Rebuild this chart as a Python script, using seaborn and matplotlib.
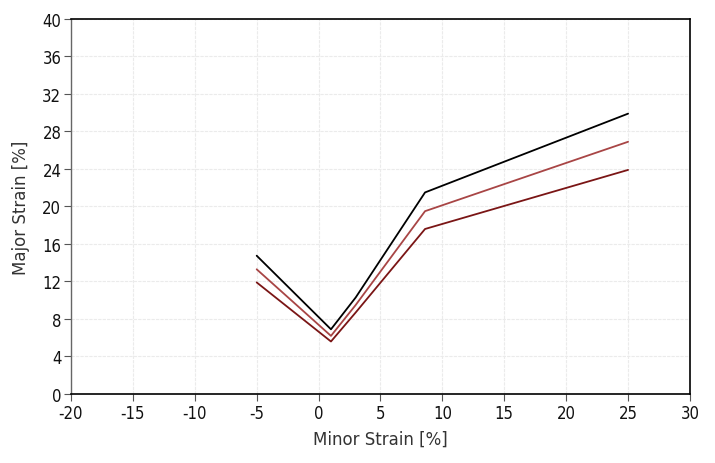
import matplotlib
matplotlib.use("Agg")
import matplotlib.pyplot as plt
import seaborn as sns
import pandas as pd

minor = [-5.0, 1.0, 3.0, 8.6, 25.0]
major_black = [14.75, 6.9, 10.3, 21.5, 29.9]
major_red = [13.3, 6.2, 9.5, 19.5, 26.9]
major_dark = [11.9, 5.6, 8.7, 17.6, 23.9]
series_names = ["upper", "middle", "lower"]
series_colors = ["#000000", "#a84545", "#7a1515"]
xticks = [-20, -15, -10, -5, 0, 5, 10, 15, 20, 25, 30]
yticks = [0, 4, 8, 12, 16, 20, 24, 28, 32, 36, 40]

rows = []
for name, vals in zip(series_names, [major_black, major_red, major_dark]):
    for x, y in zip(minor, vals):
        rows.append({"Minor": x, "Major": y, "series": name})
df = pd.DataFrame(rows)

sns.set_style("white")
plt.rcParams["font.family"] = ["DejaVu Sans"]

fig = plt.figure(figsize=(7.15, 4.64), dpi=100)
ax = fig.add_axes([0.0993, 0.1487, 0.8657, 0.8083])
sns.lineplot(data=df, x="Minor", y="Major", hue="series", palette=series_colors,
             hue_order=series_names, sort=False, linewidth=1.3, legend=False, ax=ax)

ax.set_xlim(-20, 30)
ax.set_ylim(0, 40)
ax.set_xticks(xticks)
ax.set_yticks(yticks)
ax.set_xticklabels([str(t) for t in xticks], fontsize=12, stretch="condensed")
ax.set_yticklabels([str(t) for t in yticks], fontsize=12, stretch="condensed")
ax.grid(True, color="#ebebeb", linewidth=0.8, linestyle=(0, (3, 1)))
ax.set_axisbelow(True)
ax.tick_params(axis="both", direction="out", length=5, width=0.8, color="#555555",
               bottom=True, left=True, pad=2, labelcolor="#111111")
for side in ["top", "right", "bottom"]:
    ax.spines[side].set_color("#000000")
    ax.spines[side].set_linewidth(1.2)
ax.spines["left"].set_color("#666666")
ax.spines["left"].set_linewidth(1.0)
ax.set_xlabel("Minor Strain [%]", fontsize=12, color="#333333", labelpad=6)
ax.set_ylabel("Major Strain [%]", fontsize=12, color="#333333", labelpad=9)

fig.savefig("out.png", dpi=100)
